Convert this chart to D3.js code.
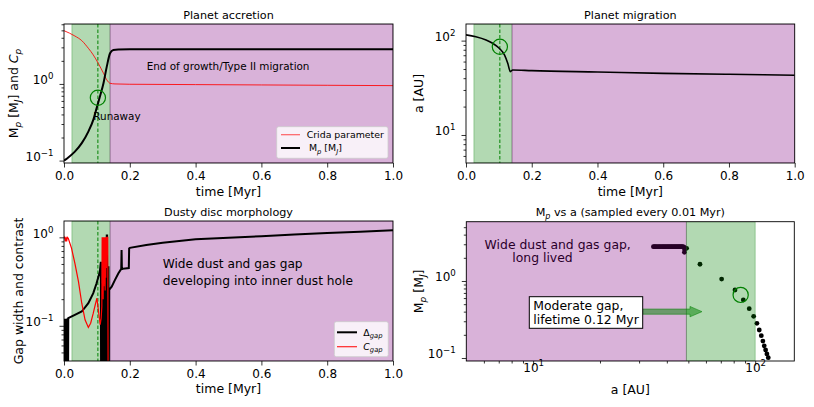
<!DOCTYPE html>
<html>
<head>
<meta charset="utf-8">
<script src="https://cdn.jsdelivr.net/npm/d3@7"></script>
<style>
body { margin: 0; background: #fff; }
svg text { font-family: "DejaVu Sans", sans-serif; fill: #000; }
</style>
</head>
<body>
<div id="vis"></div>
<script>
// ---- data ----
// Planet accretion: planet mass [MJ] and Crida parameter vs time [Myr]
const accrTime = [0, 0.013, 0.033, 0.054, 0.074, 0.089, 0.099, 0.109, 0.12, 0.13, 0.14, 0.15, 0.165, 0.2, 0.4, 0.6, 0.8, 1.0];
const accrMass = [0.100, 0.110, 0.131, 0.169, 0.239, 0.34, 0.48, 0.68, 1.02, 1.68, 2.51, 2.77, 2.82, 2.83, 2.83, 2.83, 2.83, 2.83];
const cridaTime = [0, 0.033, 0.054, 0.074, 0.089, 0.104, 0.12, 0.13, 0.14, 0.155, 0.2, 0.4, 0.6, 0.8, 1.0];
const cridaVal = [4.95, 4.22, 3.67, 2.92, 2.39, 1.86, 1.38, 1.13, 1.02, 1.0, 0.99, 0.98, 0.97, 0.96, 0.95];

// Planet migration: semi-major axis [AU] vs time
const migTime = [0, 0.03, 0.061, 0.081, 0.101, 0.117, 0.127, 0.135, 0.142, 0.2, 0.4, 0.6, 0.8, 1.0];
const migA = [115, 110, 101.7, 93.8, 83, 70.5, 57.5, 46.9, 48.9, 48.1, 46.5, 45.0, 44.0, 43.0];

// Dusty disc morphology: gap width (Delta_gap) and gap contrast (C_gap)
const gapWidthTime = [0, 0.001, 0.002, 0.003, 0.004, 0.005, 0.006, 0.007, 0.008, 0.009, 0.010, 0.011, 0.012, 0.013,
  0.033, 0.054, 0.074, 0.089, 0.099, 0.109, 0.112, 0.113, 0.114, 0.115, 0.116, 0.117, 0.118, 0.119, 0.120, 0.121,
  0.122, 0.123, 0.124, 0.125, 0.126, 0.127, 0.128, 0.129, 0.130, 0.131, 0.132, 0.133, 0.134, 0.135, 0.136, 0.137,
  0.145, 0.155, 0.165, 0.174, 0.175, 0.176, 0.177, 0.197, 0.198, 0.2, 0.25, 0.3, 0.4, 0.5, 0.6, 0.7, 0.8, 0.9, 1.0];
const gapWidthVal = [0.01, 0.12, 0.01, 0.12, 0.01, 0.12, 0.01, 0.12, 0.01, 0.12, 0.01, 0.122, 0.01, 0.122,
  0.133, 0.145, 0.18, 0.234, 0.303, 0.41, 0.53, 0.01, 0.3, 0.01, 0.25, 0.01, 0.3, 0.01, 0.35, 0.01,
  0.3, 0.01, 0.3, 0.01, 0.35, 0.01, 0.4, 0.01, 1.05, 1.05, 0.01, 0.47, 0.01, 0.47, 0.01, 0.255,
  0.277, 0.33, 0.39, 0.44, 0.72, 0.43, 0.44, 0.45, 0.75, 0.76, 0.82, 0.87, 0.95, 0.99, 1.03, 1.08, 1.12, 1.16, 1.2];
const gapContrastTime = [0, 0.002, 0.004, 0.006, 0.008, 0.010, 0.013, 0.023, 0.033, 0.044, 0.054, 0.064, 0.074, 0.081,
  0.089, 0.095, 0.100, 0.105, 0.110, 0.113, 0.115, 0.116, 0.117, 0.118, 0.119, 0.120, 0.121, 0.122, 0.123, 0.124,
  0.125, 0.126, 0.127, 0.128, 0.129, 0.130, 0.133, 0.135];
const gapContrastVal = [0.97, 1.0, 0.9, 1.0, 0.9, 1.0, 0.975, 0.75, 0.51, 0.316, 0.18, 0.117, 0.096, 0.107,
  0.139, 0.173, 0.205, 0.145, 0.103, 0.123, 0.165, 1.0, 0.25, 1.0, 0.2, 1.0, 0.28, 1.0, 0.3, 1.0,
  0.25, 1.0, 0.35, 1.0, 0.45, 1.0, 1.0, 0.001];

// Mp vs a, sampled every 0.01 Myr
const sampleA = [114.5, 112.9, 111.4, 109.8, 108.3, 106.5, 104.3, 101.8, 98.4, 94.0, 88.4, 81.1, 70.6, 56.4, 49.1,
  48.0, 48.1, 48.0, 47.6, 47.1, 46.6, 46.1, 45.6, 45.1, 44.6, 44.1, 43.6, 43.1, 42.6, 42.1, 41.6, 41.1, 40.6,
  40.1, 39.6, 39.1, 38.6, 38.1, 37.6, 37.1, 36.6, 36.1, 35.6, 35.2, 34.8];
const sampleM = [0.101, 0.113, 0.127, 0.144, 0.166, 0.195, 0.231, 0.282, 0.348, 0.437, 0.567, 0.764, 1.06, 1.65, 2.66,
  2.36, 2.55, 2.72, 2.78, 2.79, 2.79, 2.79, 2.79, 2.79, 2.79, 2.79, 2.79, 2.79, 2.79, 2.79, 2.79, 2.79, 2.79,
  2.79, 2.79, 2.79, 2.79, 2.79, 2.79, 2.79, 2.79, 2.79, 2.79, 2.79, 2.79];

// phases
const greenSpanTime = [0.024, 0.14];
const purpleSpanTime = [0.14, 1.0];
const runawayTime = 0.103;
const runawayMass = 0.66;
const runawayA = 86;
const purpleSpanA = [5, 49];
const greenSpanA = [49, 100];
const arrowTip = [57.6, 0.40];

// ticks
const timeTicks = [0, 0.2, 0.4, 0.6, 0.8, 1.0];

// ---- drawing ----
const purple = '#800080', green = '#008000';
const svg = d3.select('#vis').append('svg')
  .attr('width', 814).attr('height', 407);

let clipCount = 0;
function makePanel(box, xType, xDomain, yDomain) {
  const x = (xType === 'log' ? d3.scaleLog() : d3.scaleLinear()).domain(xDomain).range([0, box.width]);
  const y = d3.scaleLog().domain(yDomain).range([box.height, 0]);
  const id = 'clip' + (clipCount++);
  svg.append('clipPath').attr('id', id).append('rect')
    .attr('x', box.left).attr('y', box.top).attr('width', box.width).attr('height', box.height);
  // marks first, then axes/annotations on top
  const plot = svg.append('g').attr('clip-path', `url(#${id})`)
    .append('g').attr('transform', `translate(${box.left},${box.top})`);
  const g = svg.append('g').attr('transform', `translate(${box.left},${box.top})`);
  return { g, plot, x, y, box };
}

// write text made of pieces: '' normal, 'i' italic, 'subi' italic subscript, 'sup' superscript
function rich(sel, parts, fs) {
  let shift = 0;
  sel.text(null).attr('xml:space', 'preserve').style('white-space', 'pre');
  parts.forEach(([s, kind]) => {
    let target = 0, size = fs;
    if (kind.includes('sub')) { target = fs * 0.25; size = fs * 0.72; }
    if (kind.includes('sup')) { target = -fs * 0.42; size = fs * 0.72; }
    const t = sel.append('tspan').text(s).attr('font-size', size).attr('dy', target - shift);
    if (kind.includes('i')) t.style('font-style', 'italic');
    shift = target;
  });
}

function powLabel(d) {
  const e = Math.round(Math.log10(d));
  return [['10', ''], [e < 0 ? '\u2212' + (-e) : String(e), 'sup']];
}

function spans(p, list) {
  list.forEach(([a, b, col]) => {
    p.plot.append('rect')
      .attr('x', p.x(a)).attr('y', 0)
      .attr('width', p.x(b) - p.x(a)).attr('height', p.box.height)
      .attr('fill', col).attr('fill-opacity', 0.3)
      .attr('stroke', col).attr('stroke-opacity', 0.3).attr('stroke-width', 1);
  });
}

function drawAxes(p, o) {
  const { g, x, y, box } = p;
  // x axis
  const xa = d3.axisBottom(x).tickSize(4.5).tickPadding(o.xPad || 4).tickSizeOuter(0);
  if (o.xLog) xa.tickValues(o.xTicks).tickFormat(() => '');
  else xa.tickValues(o.xTicks).tickFormat(d3.format('.1f'));
  const xg = g.append('g').attr('transform', `translate(0,${box.height})`).call(xa);
  if (o.xLog) xg.selectAll('.tick text').each(function (d) { rich(d3.select(this), powLabel(d), 12); });
  if (o.xMinor) {
    g.append('g').attr('transform', `translate(0,${box.height})`)
      .call(d3.axisBottom(x).tickValues(o.xMinor).tickSize(2.5).tickFormat('').tickSizeOuter(0));
  }
  // y axis
  const yg = g.append('g')
    .call(d3.axisLeft(y).tickValues(o.yTicks).tickSize(4.5).tickPadding(6).tickFormat(() => '').tickSizeOuter(0));
  yg.selectAll('.tick text').each(function (d) { rich(d3.select(this), powLabel(d), 12); });
  g.append('g')
    .call(d3.axisLeft(y).tickValues(o.yMinor).tickSize(2.5).tickFormat('').tickSizeOuter(0));

  g.selectAll('.domain').remove();
  g.selectAll('.tick line').attr('stroke', '#000').attr('stroke-width', 0.8);
  g.selectAll('.tick text').attr('font-size', 12).attr('fill', '#000')
    .style('font-family', '"DejaVu Sans", sans-serif');

  g.append('rect').attr('width', box.width).attr('height', box.height)
    .attr('fill', 'none').attr('stroke', '#000').attr('stroke-width', 0.9);

  // title and labels
  rich(g.append('text').attr('x', box.width / 2).attr('y', -5.3).attr('text-anchor', 'middle'), o.title, 11.2);
  rich(g.append('text').attr('x', box.width / 2).attr('y', box.height + o.xLabelDy).attr('text-anchor', 'middle'), o.xLabel, 12.5);
  rich(g.append('text').attr('transform', `translate(${o.yLabelX},${box.height / 2}) rotate(-90)`)
    .attr('text-anchor', 'middle'), o.yLabel, 12.5);
}

function path(p, xs, ys, curve) {
  return d3.line().x((d, i) => p.x(xs[i])).y((d, i) => p.y(ys[i])).curve(curve)(xs);
}

function runawayLine(p) {
  p.plot.append('line')
    .attr('x1', p.x(runawayTime)).attr('x2', p.x(runawayTime))
    .attr('y1', 0).attr('y2', p.box.height)
    .attr('stroke', green).attr('stroke-width', 1).attr('stroke-dasharray', '3.5,2');
}

function ring(p, cx, cy) {
  p.plot.append('circle').attr('cx', p.x(cx)).attr('cy', p.y(cy)).attr('r', 7.6)
    .attr('fill', 'none').attr('stroke', green).attr('stroke-width', 1.2);
}

function legend(p, box, rows) {
  p.g.append('rect').attr('x', box[0]).attr('y', box[1]).attr('width', box[2]).attr('height', box[3])
    .attr('rx', 2).attr('fill', '#fff').attr('fill-opacity', 0.8)
    .attr('stroke', '#ccc').attr('stroke-width', 0.8);
  rows.forEach(r => {
    p.g.append('line').attr('x1', r.x1).attr('x2', r.x2).attr('y1', r.y).attr('y2', r.y)
      .attr('stroke', r.color).attr('stroke-width', r.w).attr('stroke-opacity', r.op || 1);
    rich(p.g.append('text').attr('x', r.tx).attr('y', r.y + 3.4), r.label, 9.4);
  });
}

// ---- Panel 1: Planet accretion ----
const p1 = makePanel({ left: 64, top: 24, width: 329, height: 139 }, 'lin', [0, 1], [0.093, 6.05]);
spans(p1, [[greenSpanTime[0], greenSpanTime[1], green], [purpleSpanTime[0], purpleSpanTime[1], purple]]);
runawayLine(p1);
p1.plot.append('path').attr('d', path(p1, cridaTime, cridaVal, d3.curveMonotoneX))
  .attr('fill', 'none').attr('stroke', 'red').attr('stroke-opacity', 0.85).attr('stroke-width', 1);
p1.plot.append('path').attr('d', path(p1, accrTime, accrMass, d3.curveMonotoneX))
  .attr('fill', 'none').attr('stroke', '#000').attr('stroke-width', 2);
ring(p1, runawayTime, runawayMass);
p1.g.append('text').attr('x', 82.7).attr('y', 46).attr('font-size', 10.4).attr('fill', '#111')
  .text('End of growth/Type II migration');
p1.g.append('text').attr('x', 29.3).attr('y', 95.5).attr('font-size', 10.4).attr('fill', '#111')
  .text('Runaway');
legend(p1, [212.7, 102.7, 111.3, 31.6], [
  { x1: 217, x2: 236, y: 110.7, color: 'red', w: 1.2, op: 0.6, tx: 242.7, label: [['Crida parameter', '']] },
  { x1: 217, x2: 236, y: 124, color: '#000', w: 2, tx: 245, label: [['M', ''], ['p', 'subi'], [' [M', ''], ['J', 'subi'], [']', '']] }
]);
drawAxes(p1, {
  xTicks: timeTicks, yTicks: [0.1, 1], yMinor: [0.2, 0.3, 0.4, 0.5, 0.6, 0.7, 0.8, 0.9, 2, 3, 4, 5, 6],
  title: [['Planet accretion', '']], xLabel: [['time [Myr]', '']], xLabelDy: 33, yLabelX: -45.7,
  yLabel: [['M', ''], ['p', 'subi'], [' [M', ''], ['J', 'subi'], ['] and ', ''], ['C', 'i'], ['p', 'subi']]
});

// ---- Panel 2: Planet migration ----
const p2 = makePanel({ left: 466, top: 24, width: 328.7, height: 139 }, 'lin', [0, 1], [5.05, 150]);
spans(p2, [[greenSpanTime[0], greenSpanTime[1], green], [purpleSpanTime[0], purpleSpanTime[1], purple]]);
runawayLine(p2);
p2.plot.append('path').attr('d', path(p2, migTime, migA, d3.curveMonotoneX))
  .attr('fill', 'none').attr('stroke', '#000').attr('stroke-width', 1.6);
ring(p2, runawayTime, runawayA);
drawAxes(p2, {
  xTicks: timeTicks, yTicks: [10, 100], yMinor: [6, 7, 8, 9, 20, 30, 40, 50, 60, 70, 80, 90],
  title: [['Planet migration', '']], xLabel: [['time [Myr]', '']], xLabelDy: 33, yLabelX: -43,
  yLabel: [['a [AU]', '']]
});

// ---- Panel 3: Dusty disc morphology ----
const p3 = makePanel({ left: 64, top: 221, width: 329, height: 140 }, 'lin', [0, 1], [0.040, 1.53]);
spans(p3, [[greenSpanTime[0], greenSpanTime[1], green], [purpleSpanTime[0], purpleSpanTime[1], purple]]);
runawayLine(p3);
p3.plot.append('path').attr('d', path(p3, gapWidthTime, gapWidthVal, d3.curveLinear))
  .attr('fill', 'none').attr('stroke', '#000').attr('stroke-width', 2).attr('stroke-linejoin', 'miter');
p3.plot.append('path').attr('d', path(p3, gapContrastTime, gapContrastVal, d3.curveLinear))
  .attr('fill', 'none').attr('stroke', 'red').attr('stroke-width', 1.2);
p3.g.append('text').attr('x', 98.7).attr('y', 47.4).attr('font-size', 12.2).attr('fill', '#111')
  .text('Wide dust and gas gap');
p3.g.append('text').attr('x', 98.7).attr('y', 64.4).attr('font-size', 12.2).attr('fill', '#111')
  .text('developing into inner dust hole');
legend(p3, [270.3, 100.7, 54, 35], [
  { x1: 273, x2: 293, y: 111.3, color: '#000', w: 2, tx: 299.3, label: [['\u0394', ''], ['gap', 'subi']] },
  { x1: 273, x2: 293, y: 125.7, color: 'red', w: 1.2, op: 0.85, tx: 299.3, label: [['C', 'i'], ['gap', 'subi']] }
]);
drawAxes(p3, {
  xTicks: timeTicks, yTicks: [0.1, 1],
  yMinor: [0.05, 0.06, 0.07, 0.08, 0.09, 0.2, 0.3, 0.4, 0.5, 0.6, 0.7, 0.8, 0.9],
  title: [['Dusty disc morphology', '']], xLabel: [['time [Myr]', '']], xLabelDy: 32, yLabelX: -41.3,
  yLabel: [['Gap width and contrast', '']]
});

// ---- Panel 4: Mp vs a ----
const p4 = makePanel({ left: 466.3, top: 221.7, width: 328, height: 139.3 }, 'log', [5, 150], [0.0914, 5.89]);
p4.plot.selectAll('circle.pt').data(sampleA).join('circle').attr('class', 'pt')
  .attr('cx', d => p4.x(d)).attr('cy', (d, i) => p4.y(sampleM[i])).attr('r', 2.4).attr('fill', '#000');
// text sits under the shaded phases, as in the original
p4.plot.append('text').attr('x', 18.3).attr('y', 27).attr('font-size', 12.4).text('Wide dust and gas gap,');
p4.plot.append('text').attr('x', 46).attr('y', 40.5).attr('font-size', 12.4).text('long lived');
spans(p4, [[purpleSpanA[0], purpleSpanA[1], purple], [greenSpanA[0], greenSpanA[1], green]]);
ring(p4, runawayA, runawayMass);
// annotation box and arrow
const boxL = 63, boxT = 75, boxW = 113.4, boxH = 31.6;
const tipX = p4.x(arrowTip[0]), tipY = p4.y(arrowTip[1]);
const headL = 12, shaftH = 2.6, headH = 5.2;
p4.g.append('path')
  .attr('d', `M${boxL + boxW},${tipY - shaftH} L${tipX - headL},${tipY - shaftH} L${tipX - headL},${tipY - headH}
    L${tipX},${tipY} L${tipX - headL},${tipY + headH} L${tipX - headL},${tipY + shaftH} L${boxL + boxW},${tipY + shaftH} Z`)
  .attr('fill', green).attr('fill-opacity', 0.5).attr('stroke', green).attr('stroke-opacity', 0.5).attr('stroke-width', 1);
p4.g.append('rect').attr('x', boxL).attr('y', boxT).attr('width', boxW).attr('height', boxH)
  .attr('fill', '#fff').attr('stroke', '#000').attr('stroke-width', 1);
p4.g.append('text').attr('x', boxL + 4).attr('y', 88.8).attr('font-size', 12.4).text('Moderate gap,');
p4.g.append('text').attr('x', boxL + 4).attr('y', 102.6).attr('font-size', 12.4).text('lifetime 0.12 Myr');
drawAxes(p4, {
  xLog: true, xTicks: [10, 100], xMinor: [6, 7, 8, 9, 20, 30, 40, 50, 60, 70, 80, 90], xPad: 6,
  yTicks: [0.1, 1], yMinor: [0.2, 0.3, 0.4, 0.5, 0.6, 0.7, 0.8, 0.9, 2, 3, 4, 5],
  title: [['M', ''], ['p', 'subi'], [' vs a (sampled every 0.01 Myr)', '']],
  xLabel: [['a [AU]', '']], xLabelDy: 33, yLabelX: -43.3,
  yLabel: [['M', ''], ['p', 'subi'], [' [M', ''], ['J', 'subi'], [']', '']]
});
</script>
</body>
</html>
